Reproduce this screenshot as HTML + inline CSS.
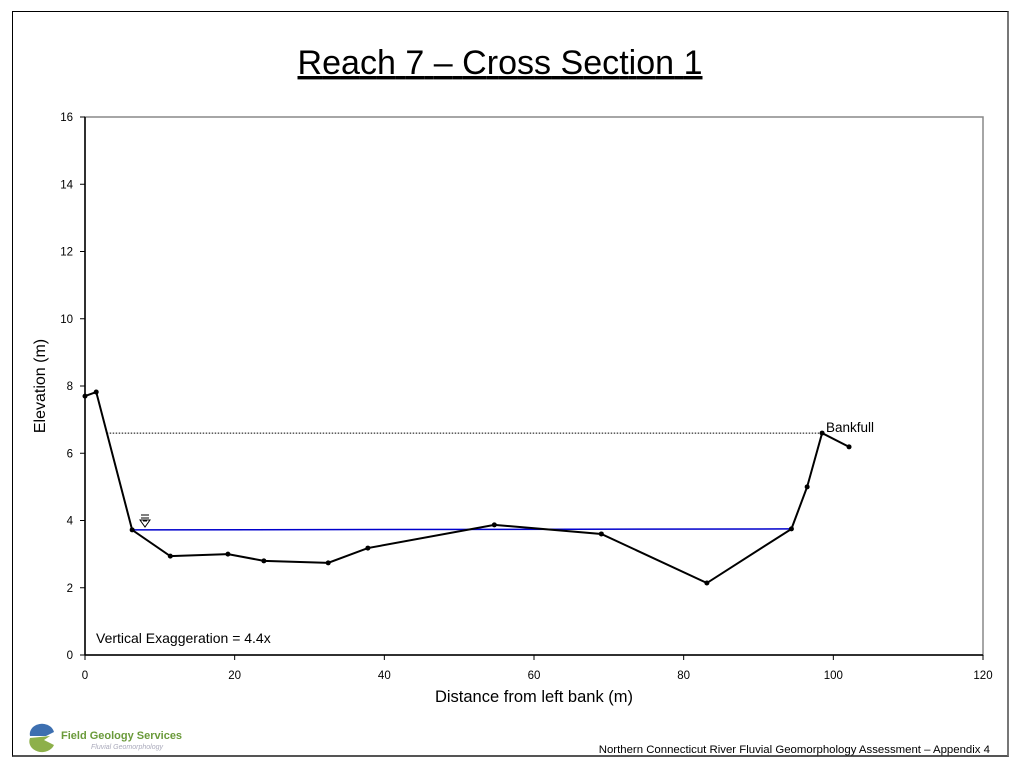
<!DOCTYPE html>
<html><head><meta charset="utf-8"><style>
html,body{margin:0;padding:0;background:#fff;}
body{width:1024px;height:768px;position:relative;overflow:hidden;font-family:"Liberation Sans",sans-serif;}
</style></head><body>
<div style="position:absolute;left:12px;top:11px;width:997px;height:746px;border:1px solid #000;border-right:2px solid #777;border-bottom:2px solid #555;box-sizing:border-box"></div>
<svg id="chart" width="1024" height="768" style="position:absolute;left:0;top:0" font-family="Liberation Sans, sans-serif">
<text x="500" y="74" font-size="34" text-anchor="middle" textLength="405" text-decoration="underline">Reach 7 – Cross Section 1</text>
<rect x="85" y="117" width="898" height="538" fill="none" stroke="#888" stroke-width="1.5"/>
<g id="axes"></g>
<g id="marks"></g>
<text x="534" y="702" font-size="16.5" text-anchor="middle">Distance from left bank (m)</text>
<text transform="translate(45,386) rotate(-90)" font-size="16" text-anchor="middle">Elevation (m)</text>
<text x="96" y="643" font-size="14">Vertical Exaggeration = 4.4x</text>
<text x="826" y="432" font-size="13.5">Bankfull</text>
<g stroke="#000" fill="none" stroke-width="1">
<line x1="141" y1="515" x2="149" y2="515"/><line x1="141" y1="518" x2="149" y2="518"/><line x1="143" y1="521" x2="147" y2="521"/>
<path d="M140 520 L150 520 L145 527 Z"/>
</g>
<g>
<path d="M30 736 A12 10 0 0 1 54 732 L46 736 Z" fill="#3d6fb0"/>
<path d="M30 738 A12 10 0 0 0 54 745 L44 740 L50 736 Z" fill="#8db04a"/>
<text x="61" y="739" font-size="11" fill="#6a9a3a" font-weight="bold">Field Geology Services</text>
<text x="91" y="749" font-size="7" fill="#aab" font-style="italic">Fluvial Geomorphology</text>
</g>
<text x="990" y="753" font-size="11.4" text-anchor="end">Northern Connecticut River Fluvial Geomorphology Assessment – Appendix 4</text>
</svg>
<script>
const xTicks=[0,20,40,60,80,100,120];
const yTicks=[0,2,4,6,8,10,12,14,16];
const distance=[0,1.5,6.3,11.4,19.1,23.9,32.5,37.8,54.7,69.0,83.1,94.4,96.5,98.5,102.1];
const elevation=[7.7,7.82,3.72,2.94,3.0,2.8,2.74,3.18,3.87,3.6,2.14,3.75,5.0,6.6,6.19];
const bankfull=[2.9,98.5,6.6];
const water=[6.3,94.4,3.72,3.75];
const X=v=>85+v*(898/120), Y=v=>655-v*(538/16);
const ns="http://www.w3.org/2000/svg";
const ax=document.getElementById('axes'), mk=document.getElementById('marks');
function el(t,a,p){const e=document.createElementNS(ns,t);for(const k in a)e.setAttribute(k,a[k]);p.appendChild(e);return e;}
let l=el('line',{x1:85,y1:117,x2:85,y2:655,stroke:'#000','stroke-width':1.5},ax);


l=el('line',{x1:85,y1:655,x2:983,y2:655,stroke:'#000','stroke-width':1.5},ax);


xTicks.forEach(v=>{el('line',{x1:X(v),y1:655,x2:X(v),y2:660,stroke:'#000'},ax);
 const t=el('text',{x:X(v),y:679,'font-size':11.5,'text-anchor':'middle'},ax);t.textContent=v;
 
 });
yTicks.forEach(v=>{el('line',{x1:80,y1:Y(v),x2:85,y2:Y(v),stroke:'#000'},ax);
 const t=el('text',{x:73,y:Y(v)+4,'font-size':11.5,'text-anchor':'end'},ax);t.textContent=v;
 
 });
l=el('line',{x1:X(bankfull[0]),y1:Y(bankfull[2]),x2:X(bankfull[1]),y2:Y(bankfull[2]),stroke:'#000','stroke-dasharray':'1.5,1.5'},mk);


l=el('line',{x1:X(water[0]),y1:Y(water[2]),x2:X(water[1]),y2:Y(water[3]),stroke:'#0000cc','stroke-width':1.5},mk);


const pl=el('polyline',{points:distance.map((d,i)=>X(d)+','+Y(elevation[i])).join(' '),fill:'none',stroke:'#000','stroke-width':2},mk);


distance.forEach((d,i)=>{const c=el('circle',{cx:X(d),cy:Y(elevation[i]),r:2.5,fill:'#000'},mk);
 
 });
</script>
</body></html>
